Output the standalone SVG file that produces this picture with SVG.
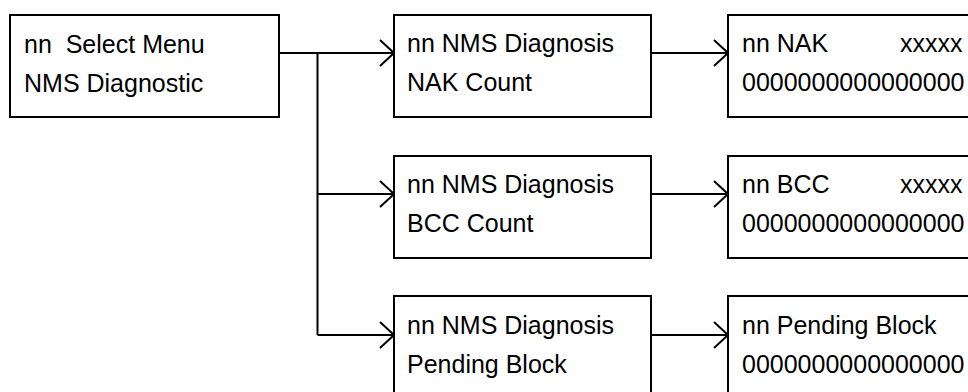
<svg xmlns="http://www.w3.org/2000/svg" width="968" height="392" viewBox="0 0 968 392">
  <defs>
    <marker id="open-arrow" viewBox="0 0 16 28" refX="15" refY="14" markerWidth="16" markerHeight="28" markerUnits="userSpaceOnUse" orient="auto">
      <path d="M1,1 L15,14 L1,27" fill="none" stroke="#000" stroke-width="2"/>
    </marker>
    <style>
      .box { fill: #fff; stroke: #000; stroke-width: 2; }
      .label { font-family: "Liberation Sans", Arial, sans-serif; font-size: 25px; fill: #000; }
      .wire { fill: none; stroke: #000; stroke-width: 2; }
      .arrow { fill: none; stroke: #000; stroke-width: 2; marker-end: url(#open-arrow); }
    </style>
  </defs>

  <!-- connectors -->
  <g id="connectors">
    <path class="wire" d="M279,53 H317.5 V335"/>
    <path class="arrow" d="M279,53 H394"/>
    <path class="arrow" d="M317.5,194 H394"/>
    <path class="arrow" d="M317.5,335 H394"/>
    <path class="arrow" d="M651,53 H728"/>
    <path class="arrow" d="M651,194 H728"/>
    <path class="arrow" d="M651,335 H728"/>
  </g>

  <!-- menu entry -->
  <g id="select-menu">
    <rect class="box" x="10" y="15" width="269" height="102"/>
    <text class="label" x="24" y="53" xml:space="preserve">nn  Select Menu</text>
    <text class="label" x="24" y="92">NMS Diagnostic</text>
  </g>

  <!-- diagnosis screens -->
  <g id="diag-nak">
    <rect class="box" x="394" y="15" width="257" height="102"/>
    <text class="label" x="407" y="52">nn NMS Diagnosis</text>
    <text class="label" x="407" y="91">NAK Count</text>
  </g>
  <g id="diag-bcc">
    <rect class="box" x="394" y="156" width="257" height="102"/>
    <text class="label" x="407" y="193">nn NMS Diagnosis</text>
    <text class="label" x="407" y="232">BCC Count</text>
  </g>
  <g id="diag-pending">
    <rect class="box" x="394" y="296" width="257" height="102"/>
    <text class="label" x="407" y="334">nn NMS Diagnosis</text>
    <text class="label" x="407" y="373">Pending Block</text>
  </g>

  <!-- value displays -->
  <g id="value-nak">
    <rect class="box" x="728" y="15" width="280" height="102"/>
    <text class="label" x="742" y="52">nn NAK</text>
    <text class="label" x="900" y="52">xxxxx</text>
    <text class="label" x="742" y="91">0000000000000000</text>
  </g>
  <g id="value-bcc">
    <rect class="box" x="728" y="156" width="280" height="102"/>
    <text class="label" x="742" y="193">nn BCC</text>
    <text class="label" x="900" y="193">xxxxx</text>
    <text class="label" x="742" y="232">0000000000000000</text>
  </g>
  <g id="value-pending">
    <rect class="box" x="728" y="296" width="280" height="102"/>
    <text class="label" x="742" y="334">nn Pending Block</text>
    <text class="label" x="742" y="373">0000000000000000</text>
  </g>
</svg>
